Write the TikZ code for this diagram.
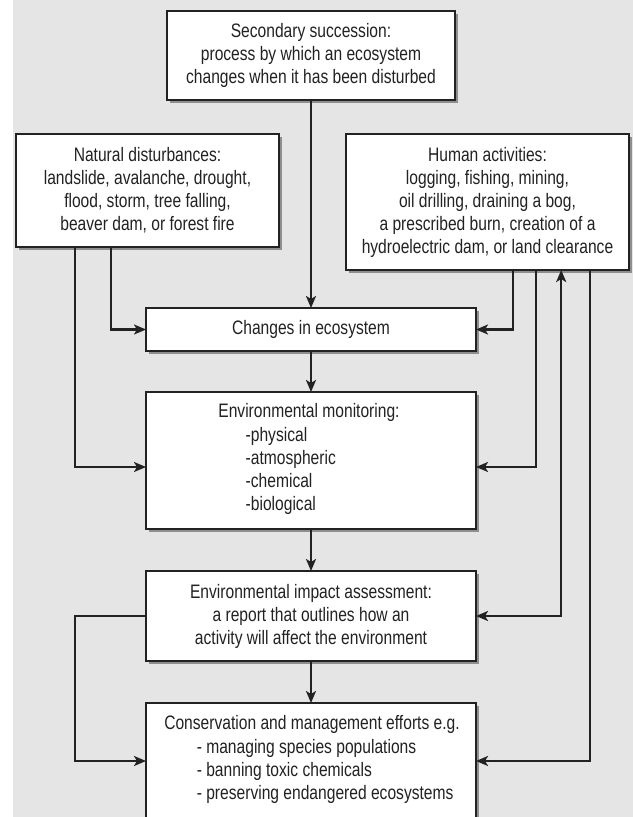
\documentclass[tikz,border=0pt]{standalone}
\usepackage{fontspec}
\setmainfont{Liberation Sans}[FakeStretch=0.80]
\usetikzlibrary{arrows.meta,shadows}
\definecolor{bg}{HTML}{E5E5E5}
\definecolor{ink}{HTML}{222222}
\definecolor{shade}{HTML}{8E8E8E}

\begin{document}
\begin{tikzpicture}[x=1pt,y=-1pt,
  box/.style={draw=ink, line width=1.3pt, fill=white, inner sep=0pt, outer sep=0pt,
    drop shadow={shadow xshift=3pt, shadow yshift=-3pt, fill=shade, opacity=1}},
  txt/.style={font=\fontsize{19.5}{23}\selectfont, text=ink, align=center, inner sep=0pt},
  items/.style={txt, align=left},
  tip/.tip={Stealth[length=12pt,width=10pt,inset=3pt]},
  arr/.style={draw=ink, line width=2.2pt, -tip},
  biarr/.style={draw=ink, line width=2.2pt, tip-tip},
]
% canvas
\useasboundingbox (0,0) rectangle (633,817);
\clip (0,0) rectangle (633,817);
\fill[bg] (13,0) rectangle (633,817);

% boxes
\node[box, txt, minimum width=288pt, minimum height=89pt] (top) at (311,55.5)
  {Secondary succession:\\process by which an ecosystem\\changes when it has been disturbed};
\node[box, txt, minimum width=263pt, minimum height=113pt] (nat) at (147.5,190.5)
  {Natural disturbances:\\landslide, avalanche, drought,\\flood, storm, tree falling,\\beaver dam, or forest fire};
\node[box, txt, minimum width=283pt, minimum height=136pt] (hum) at (487.5,202)
  {Human activities:\\logging, fishing, mining,\\oil drilling, draining a bog,\\a prescribed burn, creation of a\\hydroelectric dam, or land clearance};
\node[box, txt, minimum width=330pt, minimum height=43pt] (chg) at (311,329.5)
  {Changes in ecosystem};
\node[box, minimum width=330pt, minimum height=137pt] (mon) at (311,460.5) {};
\node[txt] (montitle) at (309,412) {Environmental monitoring:};
\node[items, anchor=west] (monitems) at (245.5,470.5)
  {-physical\\-atmospheric\\-chemical\\-biological};
\node[box, txt, minimum width=330pt, minimum height=90pt] (eia) at (311,616)
  {Environmental impact assessment:\\a report that outlines how an\\activity will affect the environment};
\node[box, minimum width=330pt, minimum height=116pt] (con) at (311,761) {};
\node[txt] (contitle) at (312,724.3) {Conservation and management efforts e.g.};
\node[items, anchor=west] (conitems) at (196.6,771)
  {- managing species populations\\- banning toxic chemicals\\- preserving endangered ecosystems};

% connector tracks
\coordinate (xa) at (75,0);
\coordinate (xb) at (111,0);
\coordinate (xc) at (512.7,0);
\coordinate (xd) at (535.7,0);
\coordinate (xe) at (561.2,0);
\coordinate (xf) at (590.2,0);
\coordinate (ymon) at (0,467);

% main column
\draw[arr] (top) -- (chg);
\draw[arr] (chg) -- (mon);
\draw[arr] (mon) -- (eia);
\draw[arr] (eia) -- (con);

% natural disturbances
\draw[arr] (nat.south -| xb) |- (chg.west);
\draw[arr] (nat.south -| xa) |- (mon.west |- ymon);

% human activities
\draw[arr] (hum.south -| xc) |- (chg.east);
\draw[arr] (hum.south -| xd) |- (mon.east |- ymon);
\draw[biarr] (eia.east) -| (hum.south -| xe);
\draw[arr] (hum.south -| xf) |- (con.east);

% assessment feeds conservation
\draw[arr] (eia.west) -- (eia.west -| xa) |- (con.west);
\end{tikzpicture}
\end{document}
